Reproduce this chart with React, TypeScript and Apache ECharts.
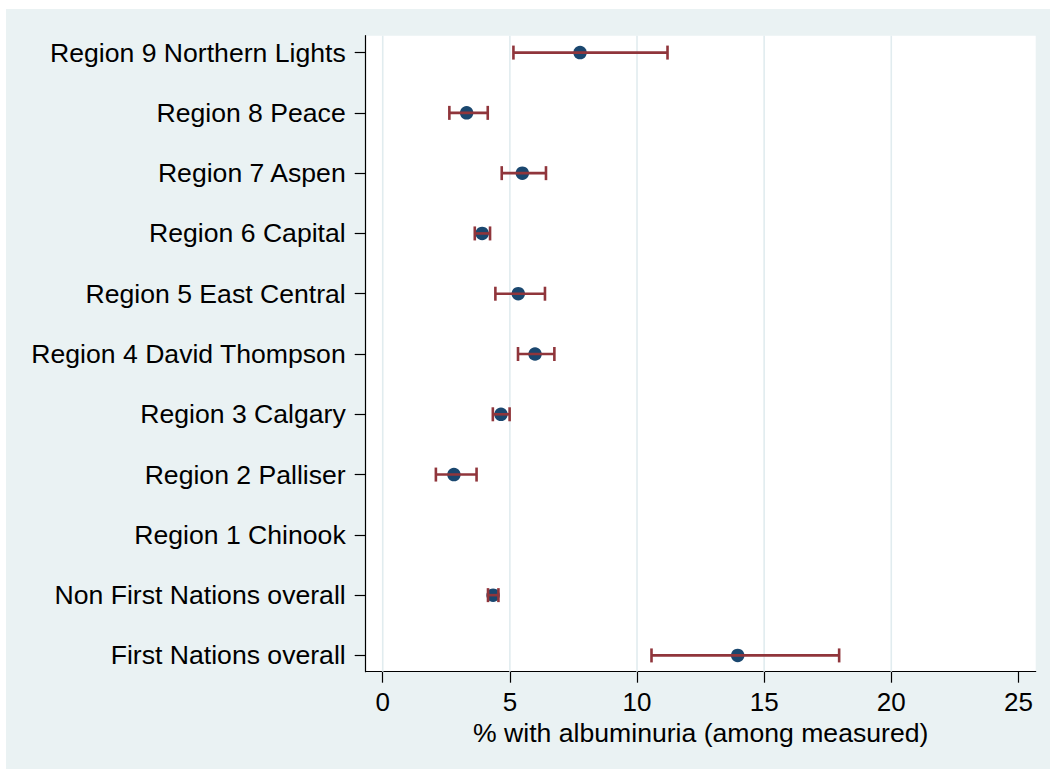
import React, { useEffect, useRef } from "react";
import * as echarts from "echarts";

const CATEGORIES = [
  "First Nations overall",
  "Non First Nations overall",
  "Region 1 Chinook",
  "Region 2 Palliser",
  "Region 3 Calgary",
  "Region 4 David Thompson",
  "Region 5 East Central",
  "Region 6 Capital",
  "Region 7 Aspen",
  "Region 8 Peace",
  "Region 9 Northern Lights",
];
const ESTIMATES: (number | null)[] = [13.96, 4.34, null, 2.8, 4.65, 5.99, 5.33, 3.91, 5.49, 3.3, 7.76];
const LOWER: (number | null)[] = [10.57, 4.14, null, 2.09, 4.33, 5.32, 4.43, 3.62, 4.68, 2.62, 5.14];
const UPPER: (number | null)[] = [17.95, 4.55, null, 3.69, 4.99, 6.75, 6.38, 4.22, 6.42, 4.13, 11.2];
const X_TICKS = [0, 5, 10, 15, 20, 25];
const GRID_LINES = [0, 5, 10, 15, 20];
const Y_TICKS = CATEGORIES.map((_, i) => i);

const FONT = "'Liberation Sans', Arial, Helvetica, sans-serif";

export default function App() {
  const ref = useRef<HTMLDivElement>(null);
  useEffect(() => {
    if (!ref.current) return;
    const chart = echarts.init(ref.current, undefined, { renderer: "svg" });
    const points = ESTIMATES.map((v, i) => (v == null ? null : [v, i])).filter((d) => d !== null);
    const bars = LOWER.map((lo, i) => (lo == null || UPPER[i] == null ? null : [lo, UPPER[i], i])).filter(
      (d) => d !== null
    );
    chart.setOption({
      animation: false,
      backgroundColor: "transparent",
      grid: {
        left: 359.7,
        top: 26.7,
        width: 670,
        height: 636,
        show: true,
        backgroundColor: "#ffffff",
        borderWidth: 0,
      },
      xAxis: {
        type: "value",
        min: -0.67,
        max: 25.68,
        axisLine: { show: true, onZero: false, lineStyle: { color: "#000", width: 1.2 } },
        axisTick: { show: true, length: 11, customValues: X_TICKS, lineStyle: { color: "#000", width: 1.2 } },
        axisLabel: {
          customValues: X_TICKS,
          fontSize: 26,
          fontFamily: FONT,
          color: "#000",
          margin: 17,
        },
        splitLine: { show: false },
        name: "% with albuminuria (among measured)",
        nameLocation: "middle",
        nameGap: 44,
        nameTextStyle: { fontSize: 26.6, fontFamily: FONT, color: "#000" },
      },
      yAxis: {
        type: "value",
        min: -0.27,
        max: 10.28,
        axisLine: { show: true, onZero: false, lineStyle: { color: "#000", width: 1.2 } },
        axisTick: { show: true, length: 11, customValues: Y_TICKS, lineStyle: { color: "#000", width: 1.2 } },
        axisLabel: {
          customValues: Y_TICKS,
          formatter: (v: number) => CATEGORIES[Math.round(v)] ?? "",
          fontSize: 26.6,
          fontFamily: FONT,
          color: "#000",
          margin: 20,
        },
        splitLine: { show: false },
      },
      series: [
        {
          type: "custom",
          z: 1,
          silent: true,
          data: GRID_LINES.map((v) => [v, 0]),
          encode: { x: 0, y: 1 },
          renderItem: (params: any, api: any) => {
            const x = api.coord([api.value(0), 0])[0];
            const cs = params.coordSys;
            return {
              type: "line",
              shape: { x1: x, y1: cs.y, x2: x, y2: cs.y + cs.height },
              style: { stroke: "#E1ECEF", lineWidth: 1.6 },
            };
          },
        },
        {
          type: "scatter",
          z: 2,
          symbol: "circle",
          symbolSize: 13.5,
          itemStyle: { color: "#1A476F", opacity: 1 },
          data: points,
        },
        {
          type: "custom",
          z: 3,
          data: bars,
          encode: { x: [0, 1], y: 2 },
          renderItem: (params: any, api: any) => {
            const i = api.value(2);
            const p1 = api.coord([api.value(0), i]);
            const p2 = api.coord([api.value(1), i]);
            const h = 7;
            const style = { stroke: "#90353B", lineWidth: 2.6 };
            return {
              type: "group",
              children: [
                { type: "line", shape: { x1: p1[0], y1: p1[1], x2: p2[0], y2: p2[1] }, style },
                { type: "line", shape: { x1: p1[0], y1: p1[1] - h, x2: p1[0], y2: p1[1] + h }, style },
                { type: "line", shape: { x1: p2[0], y1: p2[1] - h, x2: p2[0], y2: p2[1] + h }, style },
              ],
            };
          },
        },
      ],
    });
    return () => chart.dispose();
  }, []);
  return (
    <div style={{ position: "absolute", left: 0, top: 0, width: 1050, height: 769, background: "#ffffff" }}>
      <div
        ref={ref}
        style={{ position: "absolute", left: 6, top: 9, width: 1044, height: 760, background: "#EAF2F3" }}
      />
    </div>
  );
}
